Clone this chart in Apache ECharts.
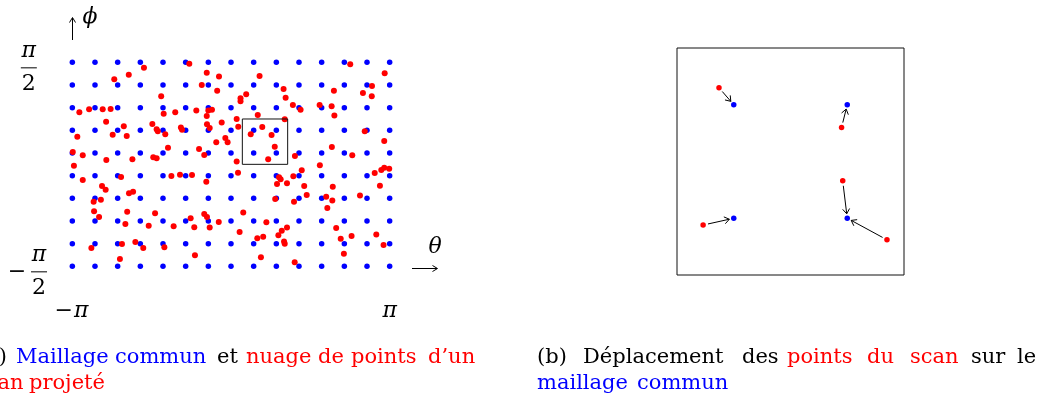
<!DOCTYPE html>
<html><head><meta charset="utf-8">
<script src="https://cdn.jsdelivr.net/npm/echarts@6/dist/echarts.min.js"></script>
<style>html,body{margin:0;padding:0;background:#fff;overflow:hidden}#c{width:1044px;height:401px}</style>
</head><body><div id="c"></div>
<script>
// ---- data (mesh units: theta index 0..14 spans -pi..pi, phi index 0..9 spans -pi/2..pi/2)
const meshTheta = [0,1,2,3,4,5,6,7,8,9,10,11,12,13,14];
const meshPhi = [0,1,2,3,4,5,6,7,8,9];
const thetaTicks = [0, 14];
const thetaTickLabels = ['−π', 'π'];
const phiTicks = [9, 0];
const phiTickSigns = ['', '−'];
const phiTickNum = 'π';
const phiTickDen = '2';

const scanPoints = [
 [5.16,8.94],[3.16,8.76],[2.49,8.45],[1.85,8.25],[5.93,8.54],[6.47,8.37],[5.71,8.00],[6.39,7.75],[3.92,7.50],
 [0.31,6.80],[0.74,6.93],[1.34,6.93],[1.69,6.94],[4.03,6.73],[4.54,6.80],[5.47,6.88],[6.00,6.87],[6.16,6.91],[5.93,6.63],
 [1.49,6.38],[2.27,6.18],[1.78,5.81],[2.40,5.75],[0.22,5.72],[3.53,6.28],[3.72,6.05],[3.77,5.96],[4.10,5.83],[4.79,6.12],
 [4.84,6.03],[5.94,6.27],[6.06,6.10],[6.59,6.34],[7.25,6.50],[7.32,6.16],[6.35,5.47],[6.75,5.66],[6.85,5.47],
 [0.02,5.04],[0.07,4.44],[0.46,4.90],[1.50,4.69],[2.65,4.72],[3.57,4.81],[3.72,4.77],[4.22,5.23],[5.59,5.18],[5.82,4.91],[7.25,4.62],
 [8.26,8.40],[12.26,8.91],[13.78,8.52],[7.42,7.42],[7.42,7.28],[7.67,7.59],[9.32,7.82],[9.41,7.44],[9.73,7.12],[10.07,6.91],
 [11.54,7.75],[12.82,7.65],[13.22,7.96],[13.21,7.50],[10.91,7.12],[11.44,7.06],[11.56,6.65],[8.18,6.68],[9.37,6.49],
 [8.38,6.15],[7.87,5.83],[8.79,5.79],[8.93,5.28],[8.64,4.72],[9.82,4.87],[10.92,4.46],[11.45,5.27],[12.35,4.90],[12.90,5.96],
 [13.76,5.53],[13.34,4.12],[13.63,4.25],[13.76,4.35],[13.98,4.31],
 [7.31,4.13],[10.12,4.24],[9.75,3.97],[9.12,3.93],[9.19,3.84],[9.03,3.63],[9.47,3.66],[10.23,3.54],[10.34,3.15],[9.78,2.85],
 [8.95,2.97],[11.49,3.51],[11.20,3.07],[11.47,2.90],[11.25,2.57],[12.69,3.12],[13.57,3.56],[7.54,2.38],[7.38,1.52],[8.56,1.94],
 [9.47,1.71],[9.24,1.57],[9.09,1.37],[8.16,1.24],[8.42,1.31],[9.34,1.09],[9.37,1.00],[11.64,1.69],[11.84,1.22],[12.32,1.34],
 [13.41,1.40],[13.73,0.94],[11.98,0.56],[8.32,0.40],[9.81,0.18],
 [0.46,3.81],[2.15,3.94],[4.37,3.99],[4.75,4.04],[5.28,4.03],[5.91,3.73],[1.31,3.54],[1.47,3.38],[2.50,3.22],[2.68,3.29],
 [0.94,2.85],[1.26,2.94],[0.96,2.43],[1.18,2.18],[2.42,2.41],[2.34,1.87],[3.65,2.34],[3.37,1.79],[4.47,1.77],[5.22,2.12],
 [5.38,1.72],[5.82,2.31],[5.94,2.18],[6.06,1.71],[6.46,1.96],[0.84,0.81],[2.19,0.99],[2.78,1.07],[3.13,0.81],[4.06,0.84],
 [2.10,0.32],[5.41,0.49]
];
// window of the mesh shown in panel (b)
const zoomBox = [[7.5,4.5],[9.5,4.5],[9.5,6.5],[7.5,6.5],[7.5,4.5]];
// panel (b): local coordinates in the 2x2 window
const zoomMesh = [[0.5,0.5],[1.5,0.5],[0.5,1.5],[1.5,1.5]];
const zoomScan = [[0.37,1.65],[1.45,1.30],[1.46,0.83],[0.23,0.44],[1.85,0.31]];
const zoomMoves = [[0,2],[1,3],[2,1],[3,0],[4,1]]; // scan index -> mesh index

const captionA = [
 [['(a)','#000'],['Maillage','#0000ff'],['commun','#0000ff'],['et','#000'],['nuage','#ff0000'],['de','#ff0000'],['points','#ff0000'],['d’un','#ff0000']],
 [['scan','#ff0000'],['projeté','#ff0000']]
];
const captionB = [
 [['(b)','#000'],['Déplacement','#000'],['des','#000'],['points','#ff0000'],['du','#ff0000'],['scan','#ff0000'],['sur','#000'],['le','#000']],
 [['maillage','#0000ff'],['commun','#0000ff']]
];

// ---- build
const meshData = [];
meshPhi.forEach(v => meshTheta.forEach(u => meshData.push([u, v])));
const arrowData = zoomMoves.map(([s, m]) => [zoomScan[s][0], zoomScan[s][1], zoomMesh[m][0], zoomMesh[m][1]]);

const chart = echarts.init(document.getElementById('c'), null, {renderer: 'canvas'});
function hid(gi, min, max) { return {gridIndex: gi, type: 'value', min: min, max: max, show: false, splitLine: {show: false}}; }

function renderArrow(params, api) {
  const a = api.coord([api.value(0), api.value(1)]);
  const b = api.coord([api.value(2), api.value(3)]);
  const dx = b[0] - a[0], dy = b[1] - a[1], L = Math.hypot(dx, dy);
  const ux = dx / L, uy = dy / L;
  const s = [a[0] + ux * 5, a[1] + uy * 5];
  const e = [b[0] - ux * 4.5, b[1] - uy * 4.5];
  const h = 6, ang = 0.62, c = Math.cos(ang), sn = Math.sin(ang);
  const back = sg => [e[0] - h * (ux * c - sg * uy * sn), e[1] - h * (uy * c + sg * ux * sn)];
  return {type: 'group', children: [
    {type: 'line', shape: {x1: s[0], y1: s[1], x2: e[0], y2: e[1]}, style: {stroke: '#000', lineWidth: 1}},
    {type: 'polyline', shape: {points: [back(1), e, back(-1)]}, style: {stroke: '#000', lineWidth: 1, fill: null}}
  ]};
}

chart.setOption({
  animation: false,
  grid: [
    {left: 72.33, top: 62.33, width: 317.34, height: 204},
    {left: 677, top: 48, width: 227, height: 227, show: true, borderColor: '#111', borderWidth: 1, backgroundColor: 'transparent'}
  ],
  xAxis: [hid(0, 0, 14), hid(1, 0, 2)],
  yAxis: [hid(0, 0, 9), hid(1, 0, 2)],
  series: [
    {type: 'scatter', xAxisIndex: 0, yAxisIndex: 0, data: meshData, symbolSize: 5.5, itemStyle: {color: '#0000ff', opacity: 1}, silent: true, z: 2},
    {type: 'scatter', xAxisIndex: 0, yAxisIndex: 0, data: scanPoints, symbolSize: 6, itemStyle: {color: '#ff0000', opacity: 1}, silent: true, z: 3},
    {type: 'line', xAxisIndex: 0, yAxisIndex: 0, data: zoomBox, symbol: 'none', lineStyle: {color: '#111', width: 1}, silent: true, z: 4},
    {type: 'custom', xAxisIndex: 1, yAxisIndex: 1, data: arrowData, renderItem: renderArrow, encode: {x: [0, 2], y: [1, 3]}, silent: true, z: 2},
    {type: 'scatter', xAxisIndex: 1, yAxisIndex: 1, data: zoomMesh, symbolSize: 5.5, itemStyle: {color: '#0000ff', opacity: 1}, silent: true, z: 3},
    {type: 'scatter', xAxisIndex: 1, yAxisIndex: 1, data: zoomScan, symbolSize: 5.5, itemStyle: {color: '#ff0000', opacity: 1}, silent: true, z: 3}
  ]
});

const SERIF = '"DejaVu Serif", "Liberation Serif", serif';
function txt(x, y, text, size, color, align, italic) {
  return {type: 'text', x: x, y: y, silent: true, z: 10, style: {
    text: text, font: (italic ? 'italic ' : '') + size + 'px ' + SERIF, fill: color,
    align: align || 'center', verticalAlign: 'middle', textAlign: align || 'center', textVerticalAlign: 'middle'}};
}
function seg(x1, y1, x2, y2) {
  return {type: 'line', silent: true, z: 10, shape: {x1: x1, y1: y1, x2: x2, y2: y2}, style: {stroke: '#000', lineWidth: 1}};
}
function poly(pts) {
  return {type: 'polyline', silent: true, z: 10, shape: {points: pts}, style: {stroke: '#000', lineWidth: 1, fill: null}};
}
const px = p => chart.convertToPixel({gridIndex: 0}, p);
const g = [];
// theta tick labels
thetaTicks.forEach((t, i) => {
  const p = px([t, 0]);
  const lab = thetaTickLabels[i];
  if (lab.length > 1) {
    g.push(txt(p[0] - 8.5, p[1] + 45, lab[0], 22, '#000'));
    g.push(txt(p[0] + 9, p[1] + 45, lab.slice(1), 22, '#000', 'center', true));
  } else {
    g.push(txt(p[0], p[1] + 45, lab, 22, '#000', 'center', true));
  }
});
// phi tick labels as fractions
phiTicks.forEach((v, i) => {
  const p = px([0, v]);
  const sign = phiTickSigns[i];
  const cx = p[0] - (sign ? 33.3 : 43.5);
  const by = p[1] + 5.5;
  g.push(txt(cx, by - 17, phiTickNum, 22, '#000', 'center', true));
  g.push(seg(cx - 8, by, cx + 8, by));
  g.push(txt(cx, by + 16, phiTickDen, 22, '#000'));
  if (sign) g.push(txt(cx - 22, by, sign, 22, '#000'));
});
// axis direction arrows and names
const cornerTL = px([0, 9]);
const ax = Math.round(cornerTL[0]) + 0.5;
g.push(seg(ax, 40, ax, 18));
g.push(poly([[ax - 3, 22.5], [ax, 17.5], [ax + 3, 22.5]]));
g.push(txt(90, 17, 'ϕ', 22, '#000', 'center', true));
g.push(seg(412, 268.5, 437, 268.5));
g.push(poly([[432.5, 265.5], [437.5, 268.5], [432.5, 271.5]]));
g.push(txt(435, 247, 'θ', 22, '#000', 'center', true));
// captions
const capAX = [[-22, 16, 115, 217, 246, 318, 351, 428], [-25, 29]];
const capBX = [[537, 583, 742, 787, 867, 910, 971, 1017], [537, 637]];
const lineY = [358, 384];
captionA.forEach((line, li) => line.forEach((w, wi) => g.push(txt(capAX[li][wi], lineY[li], w[0], 21, w[1], 'left'))));
captionB.forEach((line, li) => line.forEach((w, wi) => g.push(txt(capBX[li][wi], lineY[li], w[0], 21, w[1], 'left'))));
chart.setOption({graphic: {elements: g}});
</script>
</body></html>
